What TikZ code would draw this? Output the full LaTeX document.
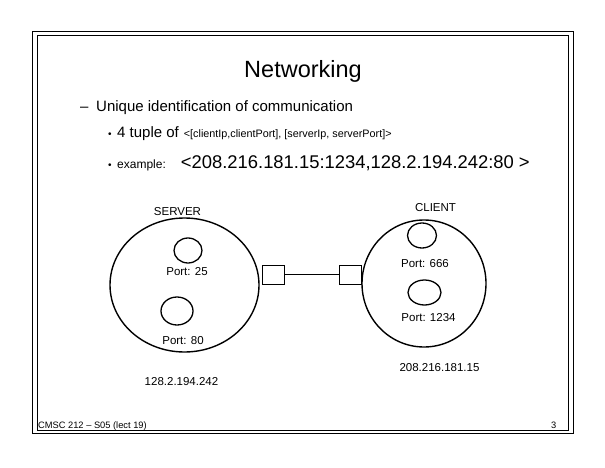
\documentclass[tikz,border=0pt]{standalone}
\usepackage{fontspec}
\setmainfont{Liberation Sans}
\usetikzlibrary{shapes.geometric}
\begin{document}
\begin{tikzpicture}[x=1pt,y=-1pt,
  frameline/.style={draw=black,line width=1pt},
  host/.style={draw=black,ellipse,line width=1.4pt,inner sep=0pt},
  port/.style={draw=black,ellipse,line width=1.3pt,inner sep=0pt},
  nic/.style={draw=black,rectangle,line width=0.8pt,inner sep=0pt,minimum width=22pt,minimum height=19pt},
  lbl/.style={inner sep=0pt,font=\fontsize{11.5}{12}\selectfont},
  txt/.style={inner sep=0pt,anchor=base west}]
\useasboundingbox (0,0) rectangle (605,468);
\fill[white] (0,0) rectangle (605,468);
% frame
\draw[frameline] (32,32) rectangle (573,433);
\draw[frameline] (37,36) rectangle (568,430);
% title and bullets
\node[inner sep=0pt,anchor=base] (title) at (303,78) {\fontsize{23.5}{24}\selectfont Networking};
\node[txt] (dash) at (80,112) {\fontsize{15}{16}\selectfont –};
\node[txt] (l1) at (96,112) {\fontsize{15}{16}\selectfont Unique identification of communication};
\node[txt] (b2) at (108,138) {\fontsize{10}{12}\selectfont •};
\node[txt] (l2) at (117,138) {\fontsize{15}{16}\selectfont 4 tuple of\hspace{5pt}{\fontsize{10.8}{12}\selectfont <[clientIp,clientPort], [serverIp, serverPort]>}};
\node[txt] (b3) at (108,168) {\fontsize{10}{12}\selectfont •};
\node[txt] (l3) at (117,168) {\fontsize{12}{12}\selectfont example:\hspace{15pt}\fontsize{18.4}{20}\selectfont <208.216.181.15:1234,128.2.194.242:80 >};
% server
\node[host,minimum width=149pt,minimum height=134pt] (server) at (184.5,285) {};
\node[port,minimum width=28pt,minimum height=25pt] (p25) at (188,250.5) {};
\node[port,minimum width=32pt,minimum height=28pt] (p80) at (177,311) {};
\node[lbl] (sname) at (177.5,212) {SERVER};
\node[lbl] (l25) at (187,272) {Port: 25};
\node[lbl] (l80) at (183,341) {Port: 80};
\node[lbl] (sip) at (181.5,381.5) {128.2.194.242};
% client
\node[host,minimum width=124pt,minimum height=127pt] (client) at (424,283.5) {};
\node[port,minimum width=29pt,minimum height=25pt] (p666) at (422,235.5) {};
\node[port,minimum width=33pt,minimum height=25pt] (p1234) at (424.5,292.5) {};
\node[lbl] (cname) at (435.5,208) {CLIENT};
\node[lbl] (l666) at (425,264) {Port: 666};
\node[lbl] (l1234) at (428.5,318) {Port: 1234};
\node[lbl] (cip) at (439.5,368) {208.216.181.15};
% network interfaces and link
\node[nic] (sbox) at (273,274.5) {};
\node[nic] (cbox) at (350.5,274.5) {};
\draw[line width=0.8pt] (sbox.east) -- (cbox.west);
% footer
\node[txt] (foot) at (38,428) {\fontsize{9.3}{10}\selectfont CMSC 212 – S05 (lect 19)};
\node[txt] (page) at (551,428) {\fontsize{9.3}{10}\selectfont 3};
\end{tikzpicture}
\end{document}
